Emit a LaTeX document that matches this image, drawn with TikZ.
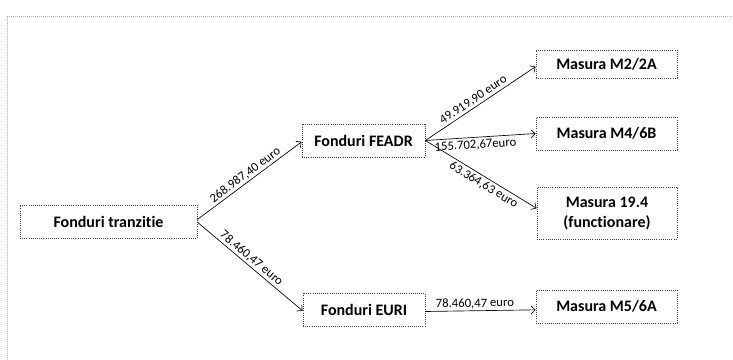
\documentclass[tikz,border=0pt]{standalone}
\usepackage{fontspec}
\setmainfont{Carlito}[Ligatures={NoCommon,NoContextual}]
\usetikzlibrary{arrows.meta}
\begin{document}
\begin{tikzpicture}[x=0.75pt,y=-0.75pt,
  box/.style={draw=black!75, densely dotted, line width=0.6pt, inner sep=0pt,
    align=center, font=\bfseries\fontsize{12}{15}\selectfont},
  flow/.style={draw=black, line width=0.5pt, -{Straight Barb[length=3pt,width=6pt]}},
  lbl/.style={font=\fontsize{9.5}{11}\selectfont, sloped, inner sep=1.2pt}]
\useasboundingbox (0,0) rectangle (733,360);
% frame
\draw[gray!60, densely dotted, line width=0.5pt] (7,360) -- (7,16) -- (733,16);
% nodes
\node[box, minimum width=132.75pt, minimum height=24.75pt] (tr) at (108.5,221.5) {Fonduri tranzitie};
\node[box, minimum width=92.25pt, minimum height=24.75pt] (feadr) at (363.5,140.5) {Fonduri FEADR};
\node[box, minimum width=91.5pt, minimum height=24.75pt] (euri) at (364,309.5) {Fonduri EURI};
\node[box, minimum width=105.75pt, minimum height=21pt] (m2) at (606.5,64) {Masura M2/2A};
\node[box, minimum width=105.75pt, minimum height=24.75pt] (m4) at (606.5,133.5) {Masura M4/6B};
\node[box, minimum width=105pt, minimum height=39pt] (m19) at (607,213) {Masura 19.4\\(functionare)};
\node[box, minimum width=105.75pt, minimum height=24.75pt] (m5) at (606.5,306.5) {Masura M5/6A};
% connectors
\draw[flow] ([yshift=1.5pt]tr.east) -- ([yshift=-1pt]feadr.west)
  node[lbl, midway, above] {268.987,40 euro};
\draw[flow] ([yshift=-0.5pt]tr.east) -- ([yshift=-1pt]euri.west)
  node[lbl, pos=0.47, above] {78.460,47 euro};
\draw[flow] (feadr.east) -- ([yshift=-2pt]m2.west)
  node[lbl, pos=0.47, above] {49.919,90 euro};
\draw[flow] (feadr.east) -- (m4.west)
  node[lbl, pos=0.45, below=0.5pt] {155.702,67euro};
\draw[flow] (feadr.east) -- ([yshift=3.5pt]m19.west)
  node[lbl, pos=0.56, below=0.5pt] {63.364,63 euro};
\draw[flow] ([yshift=-1.5pt]euri.east) -- ([yshift=-2.5pt]m5.west)
  node[lbl, pos=0.45, above] {78.460,47 euro};
\end{tikzpicture}
\end{document}
